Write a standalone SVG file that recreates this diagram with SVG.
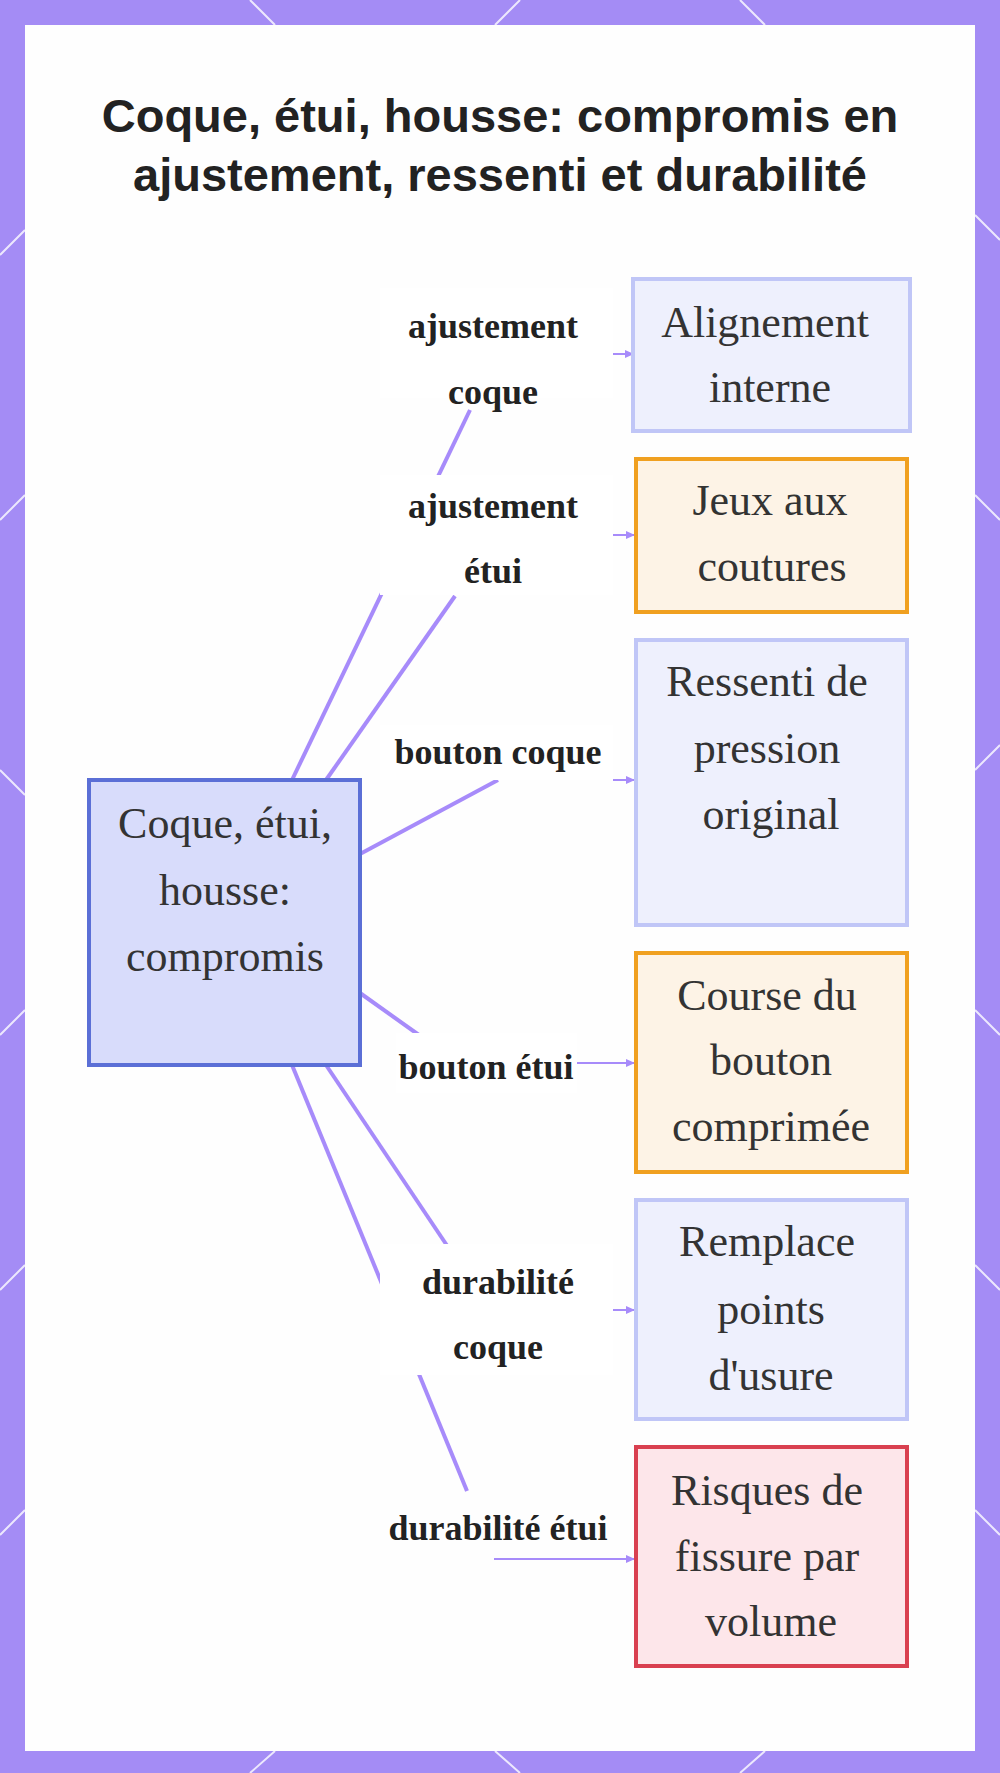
<svg xmlns="http://www.w3.org/2000/svg" width="1000" height="1773" viewBox="0 0 1000 1773">
<defs>
<style>
.t{font-family:"Liberation Serif",serif;font-size:44px;fill:#333;text-anchor:middle}
.l{font-family:"Liberation Serif",serif;font-size:36px;font-weight:bold;fill:#222;text-anchor:middle}
.e{stroke:#a78bfa;stroke-width:4;fill:none}
.a{stroke:#a78bfa;stroke-width:2;fill:none;marker-end:url(#ar)}
.lb{fill:#fff}
.b{fill:#eef0fd;stroke:#c0c6f7;stroke-width:4}
.o{fill:#fdf3e6;stroke:#f0a020;stroke-width:4}
.r{fill:#fde6ea;stroke:#d94050;stroke-width:4}
</style>
<marker id="ar" markerWidth="10" markerHeight="10" refX="8" refY="5" orient="auto" markerUnits="userSpaceOnUse"><path d="M0,1 L9,5 L0,9 z" fill="#a78bfa"/></marker>
</defs>
<rect width="1000" height="1773" fill="#a48cf5"/>
<rect x="25" y="25" width="950" height="1726" fill="#fefefe"/>
<g stroke="#fff" stroke-width="2" opacity="0.8">
<path d="M250,0 L275,25 M495,25 L520,0 M740,0 L765,25 M975,215 L1000,240 M0,255 L25,230 M975,495 L1000,520 M0,520 L25,495 M975,770 L1000,745 M0,770 L25,795 M0,1035 L25,1010 M975,1010 L1000,1035 M0,1290 L25,1265 M975,1265 L1000,1290 M0,1535 L25,1510 M975,1510 L1000,1535 M250,1773 L275,1751 M495,1751 L520,1773 M740,1773 L765,1751"/>
</g>
<text x="500" y="132" font-family="Liberation Sans,sans-serif" font-size="47" font-weight="bold" fill="#222" text-anchor="middle">Coque, étui, housse: compromis en</text>
<text x="500" y="191" font-family="Liberation Sans,sans-serif" font-size="47" font-weight="bold" fill="#222" text-anchor="middle">ajustement, ressenti et durabilité</text>
<g id="connectors">
<path class="e" d="M292,780 L470,410"/>
<path class="e" d="M326,780 L455,596"/>
<path class="e" d="M360,854 L498,780"/>
<path class="e" d="M360,993 L440,1050"/>
<path class="e" d="M326,1065 L450,1250"/>
<path class="e" d="M292,1065 L467,1491"/>
<path class="a" d="M613,354 L633,354"/>
<path class="a" d="M613,535 L634,535"/>
<path class="a" d="M613,780 L634,780"/>
<path class="a" d="M577,1063 L634,1063"/>
<path class="a" d="M613,1310 L634,1310"/>
<path class="a" d="M494,1559 L634,1559"/>
</g>
<g id="labels">
<rect class="lb" x="380" y="288" width="233" height="110"/>
<text class="l" x="493" y="338">ajustement</text><text class="l" x="493" y="404">coque</text>
<rect class="lb" x="380" y="475" width="233" height="120"/>
<text class="l" x="493" y="518">ajustement</text><text class="l" x="493" y="583">étui</text>
<rect class="lb" x="380" y="725" width="233" height="55"/>
<text class="l" x="498" y="764">bouton coque</text>
<rect class="lb" x="396" y="1033" width="181" height="60"/>
<text class="l" x="486" y="1079">bouton étui</text>
<rect class="lb" x="380" y="1244" width="233" height="131"/>
<text class="l" x="498" y="1294">durabilité</text><text class="l" x="498" y="1359">coque</text>
<text class="l" x="498" y="1540">durabilité étui</text>
</g>
<g id="center"><rect x="89" y="780" width="271" height="285" fill="#d8dcfb" stroke="#5b6fd6" stroke-width="4"/>
<text class="t" x="225" y="838">Coque, étui,</text><text class="t" x="225" y="905">housse:</text><text class="t" x="225" y="971">compromis</text></g>
<g id="n1"><rect class="b" x="633" y="279" width="277" height="152"/><text class="t" x="765" y="337">Alignement</text><text class="t" x="770" y="402">interne</text></g>
<g id="n2"><rect class="o" x="636" y="459" width="271" height="153"/><text class="t" x="770" y="515">Jeux aux</text><text class="t" x="772" y="581">coutures</text></g>
<g id="n3"><rect class="b" x="636" y="640" width="271" height="285"/><text class="t" x="767" y="696">Ressenti de</text><text class="t" x="767" y="763">pression</text><text class="t" x="771" y="829">original</text></g>
<g id="n4"><rect class="o" x="636" y="953" width="271" height="219"/><text class="t" x="767" y="1010">Course du</text><text class="t" x="771" y="1075">bouton</text><text class="t" x="771" y="1141">comprimée</text></g>
<g id="n5"><rect class="b" x="636" y="1200" width="271" height="219"/><text class="t" x="767" y="1256">Remplace</text><text class="t" x="771" y="1324">points</text><text class="t" x="771" y="1390">d'usure</text></g>
<g id="n6"><rect class="r" x="636" y="1447" width="271" height="219"/><text class="t" x="767" y="1505">Risques de</text><text class="t" x="767" y="1571">fissure par</text><text class="t" x="771" y="1636">volume</text></g>
</svg>
